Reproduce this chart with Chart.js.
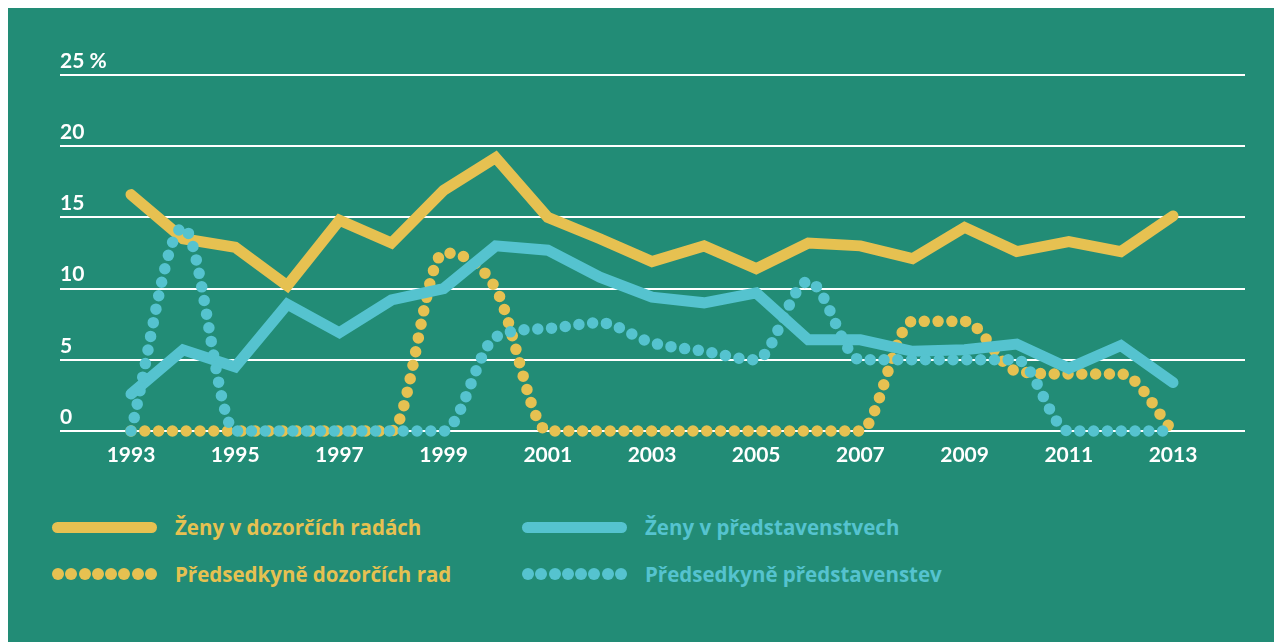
<!DOCTYPE html>
<html>
<head>
<meta charset="utf-8">
<script src="https://cdn.jsdelivr.net/npm/chart.js@4"></script>
<style>
  html, body { margin: 0; padding: 0; background: #ffffff; }
  #panel { position: absolute; left: 8px; top: 8px; width: 1266px; height: 634px; background: #228C76; overflow: hidden; }
  #chartWrap { position: absolute; left: 0; top: 0; width: 1266px; height: 480px; }
  .lg { position: absolute; display: flex; align-items: center; font-family: "Open Sans", sans-serif; font-weight: 700; font-size: 20.5px; white-space: nowrap; height: 32px; }
  .sw-solid { width: 105px; height: 11px; border-radius: 6px; }
  .sw-dots { width: 105px; height: 12px; display: flex; justify-content: space-between; }
  .sw-dots span { width: 12px; height: 12px; border-radius: 50%; display: block; }
  .lg .txt { margin-left: 18px; }
</style>
</head>
<body>
<div id="panel">
  <div id="chartWrap"><canvas id="c" width="1266" height="480"></canvas></div>
  <div id="legend"></div>
</div>
<script>
const years = [1993,1994,1995,1996,1997,1998,1999,2000,2001,2002,2003,2004,2005,2006,2007,2008,2009,2010,2011,2012,2013];
const zenyDozorci = [16.6,13.5,12.9,10.2,14.8,13.2,16.9,19.2,15.0,13.5,11.9,13.0,11.4,13.2,13.0,12.1,14.3,12.6,13.3,12.6,15.1];
const zenyPredstav = [2.6,5.7,4.5,8.9,6.9,9.2,10.0,13.0,12.7,10.8,9.4,9.0,9.7,6.4,6.4,5.6,5.7,6.1,4.4,6.0,3.4];
const predsedkyneDozorci = [0,0,0,0,0,0,12.5,10.0,0,0,0,0,0,0,0,7.7,7.7,4.2,4.0,4.0,0];
const predsedkynePredstav = [0,14.3,0,0,0,0,0,6.6,7.2,7.6,6.2,5.6,5.0,10.5,5.0,5.0,5.0,5.0,0,0,0];
const xTickYears = [1993,1995,1997,1999,2001,2003,2005,2007,2009,2011,2013];
const yTickLabels = ['0','5','10','15','20','25 %'];
const seriesNames = ['Ženy v dozorčích radách','Ženy v představenstvech','Předsedkyně dozorčích rad','Předsedkyně představenstev'];

const YELLOW = '#E6C151';
const TEAL = '#55C3CF';
const toPts = arr => years.map((y, i) => ({ x: y, y: arr[i] }));

const solid = (label, data, color, order) => ({
  label, data: toPts(data), borderColor: color, borderWidth: 11,
  borderCapStyle: 'round', borderJoinStyle: 'miter', tension: 0,
  pointRadius: 0, fill: false, clip: false, order
});
const dotted = (label, data, color, order) => ({
  label, data: toPts(data), borderColor: color, borderWidth: 11.5,
  borderDash: [0, 13.8], borderCapStyle: 'round', cubicInterpolationMode: 'monotone',
  pointRadius: 0, fill: false, clip: false, order
});

const datasets = [
  solid(seriesNames[0], zenyDozorci, YELLOW, 4),
  solid(seriesNames[1], zenyPredstav, TEAL, 2),
  dotted(seriesNames[2], predsedkyneDozorci, YELLOW, 3),
  dotted(seriesNames[3], predsedkynePredstav, TEAL, 1)
];

const xMin = 1993 - 71 / 52.1;
const xMax = xMin + 22.745;

const chart = new Chart(document.getElementById('c'), {
  type: 'line',
  data: { datasets },
  options: {
    responsive: false,
    animation: false,
    layout: { padding: { left: 52, right: 29, top: 67, bottom: 17 } },
    plugins: { legend: { display: false }, tooltip: { enabled: false } },
    scales: {
      x: {
        type: 'linear', min: xMin, max: xMax,
        afterBuildTicks: s => { s.ticks = xTickYears.map(v => ({ value: v })); },
        afterFit: s => { s.height = 40; },
        grid: { display: false, drawTicks: false },
        border: { display: false },
        ticks: {
          color: '#ffffff', padding: 12, maxRotation: 0, autoSkip: false,
          font: { family: 'Lato', weight: 'bold', size: 21 },
          callback: v => String(v)
        }
      },
      y: {
        min: 0, max: 25,
        afterFit: s => { s.width = 0; },
        grid: { color: '#ffffff', lineWidth: 2, drawTicks: false },
        border: { display: false },
        ticks: {
          stepSize: 5, mirror: true, padding: 0, labelOffset: -14,
          color: '#ffffff',
          font: { family: 'Lato', weight: 'bold', size: 21 },
          callback: (v, i) => yTickLabels[i]
        }
      }
    }
  }
});

// HTML legend built from chart datasets (positions are inside the panel)
const legendPos = [
  { left: 44, top: 503 },
  { left: 514, top: 503 },
  { left: 44, top: 550 },
  { left: 514, top: 550 }
];
const lg = document.getElementById('legend');
chart.data.datasets.forEach((ds, i) => {
  const item = document.createElement('div');
  item.className = 'lg';
  item.style.left = legendPos[i].left + 'px';
  item.style.top = legendPos[i].top + 'px';
  item.style.color = ds.borderColor;
  let sw;
  if (ds.borderDash) {
    sw = document.createElement('div'); sw.className = 'sw-dots';
    for (let k = 0; k < 8; k++) { const d = document.createElement('span'); d.style.background = ds.borderColor; sw.appendChild(d); }
  } else {
    sw = document.createElement('div'); sw.className = 'sw-solid'; sw.style.background = ds.borderColor;
  }
  const t = document.createElement('span'); t.className = 'txt'; t.textContent = ds.label;
  item.appendChild(sw); item.appendChild(t);
  lg.appendChild(item);
});
</script>
</body>
</html>
